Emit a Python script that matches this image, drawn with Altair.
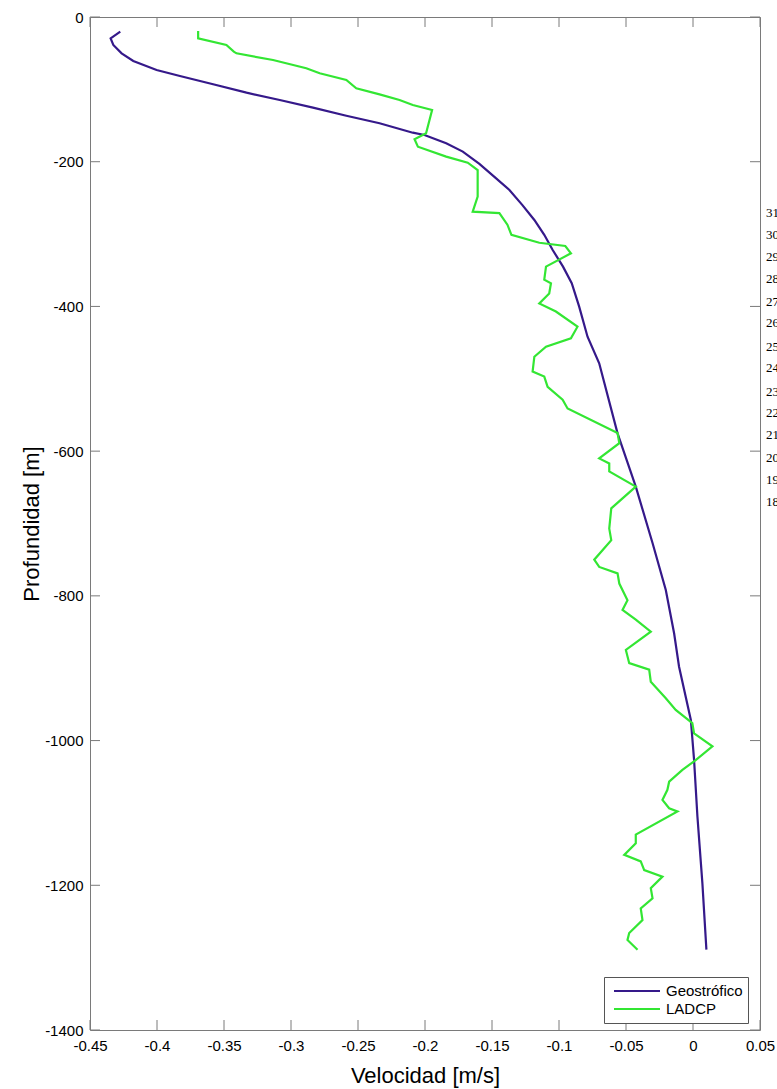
import altair as alt
import pandas as pd

# Geostrophic velocity profile (depth in m, velocity in m/s)
geo_depth = [-20.3, -29.5, -38.7, -50.2, -60.8, -73.2, -81.5, -93.0, -104.6, -114.7,
             -125.3, -136.4, -146.9, -159.9, -163.0, -174.6, -186.0, -203.0, -221.0,
             -239.0, -260.0, -280.5, -301.0, -322.0, -345.0, -368.0, -400.0, -441.8,
             -478.6, -575.4, -649.0, -727.0, -792.0, -851.7, -897.9, -971.5, -1026.8,
             -1105.0, -1197.0, -1289.0]
geo_vel = [-0.4274, -0.4346, -0.4326, -0.4264, -0.4177, -0.4003, -0.3829, -0.3581,
           -0.3332, -0.3084, -0.2836, -0.2587, -0.2339, -0.2091, -0.2004, -0.1842,
           -0.1718, -0.1594, -0.1482, -0.1370, -0.1273, -0.1184, -0.1110, -0.1047,
           -0.0970, -0.0905, -0.0850, -0.0787, -0.0700, -0.0563, -0.0427, -0.0302,
           -0.0203, -0.0141, -0.0104, -0.0016, 0.0008, 0.0033, 0.0070, 0.0100]

# LADCP velocity profile
ladcp_depth = [-19.3, -29.5, -38.7, -47.9, -50.2, -59.4, -70.9, -77.8, -87.0, -98.6,
               -106.9, -114.7, -121.6, -128.5, -160.7, -169.0, -179.2, -193.0, -201.3,
               -211.5, -248.3, -269.0, -271.0, -287.0, -301.0, -312.0, -316.5, -326.6,
               -345.0, -363.0, -368.0, -382.0, -396.0, -407.0, -428.0, -444.0, -455.6,
               -469.5, -490.0, -497.0, -511.0, -529.0, -541.0, -575.0, -589.0, -610.0,
               -617.0, -628.0, -649.0, -679.0, -707.0, -723.0, -750.0, -760.0, -769.0,
               -783.0, -806.0, -819.5, -833.0, -849.5, -874.8, -893.0, -902.0, -918.6,
               -941.6, -957.7, -976.0, -990.0, -1008.0, -1027.0, -1040.6, -1056.8,
               -1068.0, -1082.0, -1093.6, -1098.0, -1130.0, -1142.0, -1158.0, -1167.0,
               -1179.0, -1188.0, -1204.0, -1218.0, -1232.0, -1248.0, -1266.0, -1275.5,
               -1289.0]
ladcp_vel = [-0.3693, -0.3693, -0.3482, -0.3427, -0.3407, -0.3134, -0.2886, -0.2786,
             -0.2587, -0.2513, -0.2339, -0.2190, -0.2091, -0.1947, -0.1992, -0.2078,
             -0.2053, -0.1842, -0.1681, -0.1607, -0.1607, -0.1644, -0.1445, -0.1385,
             -0.1355, -0.1147, -0.0953, -0.0911, -0.1097, -0.1110, -0.1060, -0.1073,
             -0.1147, -0.1023, -0.0862, -0.0911, -0.1097, -0.1184, -0.1197, -0.1110,
             -0.1085, -0.0973, -0.0936, -0.0563, -0.0550, -0.0700, -0.0625, -0.0625,
             -0.0427, -0.0610, -0.0625, -0.0610, -0.0737, -0.0700, -0.0563, -0.0550,
             -0.0489, -0.0526, -0.0427, -0.0315, -0.0501, -0.0476, -0.0327, -0.0315,
             -0.0203, -0.0129, -0.0005, 0.0008, 0.0145, 0.0020, -0.0079, -0.0178,
             -0.0191, -0.0228, -0.0178, -0.0116, -0.0427, -0.0427, -0.0513, -0.0390,
             -0.0364, -0.0228, -0.0315, -0.0302, -0.0390, -0.0377, -0.0476, -0.0489,
             -0.0414]

series_names = ["Geostrófico", "LADCP"]
series_colors = ["#35198a", "#33e633"]

x_ticks = [-0.45, -0.4, -0.35, -0.3, -0.25, -0.2, -0.15, -0.1, -0.05, 0, 0.05]
y_ticks = [0, -200, -400, -600, -800, -1000, -1200, -1400]

# stray row numbers printed just right of the frame
side_labels = ["31", "30", "29", "28", "27", "26", "25", "24", "23", "22", "21", "20", "19", "18"]
side_depths = [-270.9, -301.3, -331.7, -362.1, -393.9, -422.9, -456.1, -485.1,
               -518.2, -547.3, -577.7, -609.5, -639.9, -670.3]

W, H = 670, 1013
AXIS_GRAY = "#7a7a7a"
FONT = "Liberation Sans"

rows = []
for name, dep, vel in [(series_names[0], geo_depth, geo_vel),
                       (series_names[1], ladcp_depth, ladcp_vel)]:
    for i, (d, v) in enumerate(zip(dep, vel)):
        rows.append({"serie": name, "depth": d, "vel": v, "i": i})
profiles = pd.DataFrame(rows)

xs = alt.Scale(domain=[-0.45, 0.05], nice=False, zero=False)
ys = alt.Scale(domain=[-1400, 0], nice=False, zero=False)

lines = alt.Chart(profiles).mark_line(strokeWidth=2.2, clip=True).encode(
    x=alt.X("vel:Q", scale=xs,
            axis=alt.Axis(values=x_ticks, title="Velocidad [m/s]",
                          labelExpr="'' + datum.value", labelPadding=8,
                          labelFlush=False, labelOverlap=False,
                          titleY=52, titleBaseline="alphabetic")),
    y=alt.Y("depth:Q", scale=ys,
            axis=alt.Axis(values=y_ticks, title="Profundidad [m]",
                          labelExpr="'' + datum.value", labelPadding=7,
                          labelFlush=False, labelOverlap=False,
                          titleX=-52, titleY=H / 2, titleBaseline="alphabetic",
                          titleAlign="center")),
    color=alt.Color("serie:N",
                    scale=alt.Scale(domain=series_names, range=series_colors),
                    legend=alt.Legend(orient="none", legendX=514, legendY=960,
                                      title=None, symbolType="stroke",
                                      symbolSize=2116, symbolStrokeWidth=2,
                                      clipHeight=18, padding=5, symbolOffset=4,
                                      labelOffset=5, labelFont=FONT,
                                      labelFontSize=15, labelColor="black",
                                      strokeColor="#555555", fillColor="white",
                                      rowPadding=0, cornerRadius=0)),
    order="i:Q",
)

xt = pd.DataFrame({"t": x_ticks})
yt = pd.DataFrame({"t": y_ticks})
TL = 10  # inward tick length

top_ticks = alt.Chart(xt).mark_rule(color=AXIS_GRAY, strokeWidth=1).encode(
    x=alt.X("t:Q", scale=xs), y=alt.value(0), y2=alt.value(TL))
bottom_ticks = alt.Chart(xt).mark_rule(color=AXIS_GRAY, strokeWidth=1).encode(
    x=alt.X("t:Q", scale=xs), y=alt.value(H), y2=alt.value(H - TL))
left_ticks = alt.Chart(yt).mark_rule(color=AXIS_GRAY, strokeWidth=1).encode(
    y=alt.Y("t:Q", scale=ys), x=alt.value(0), x2=alt.value(TL))
right_ticks = alt.Chart(yt).mark_rule(color=AXIS_GRAY, strokeWidth=1).encode(
    y=alt.Y("t:Q", scale=ys), x=alt.value(W), x2=alt.value(W - TL))

side = alt.Chart(pd.DataFrame({"lab": side_labels, "d": side_depths})).mark_text(
    align="left", baseline="middle", dx=6, font="Liberation Serif",
    fontSize=13, color="black", clip=False
).encode(
    x=alt.datum(0.05, scale=xs),
    y=alt.Y("d:Q", scale=ys),
    text="lab:N",
)

chart = alt.layer(
    lines, top_ticks, bottom_ticks, left_ticks, right_ticks, side
).properties(
    width=W, height=H,
    padding={"left": 90, "top": 17, "right": 17, "bottom": 59},
    autosize=alt.AutoSizeParams(type="none"),
    background="white",
).configure_view(
    stroke=AXIS_GRAY, strokeWidth=1
).configure_axis(
    domain=False, ticks=False, grid=False,
    labelFont=FONT, labelFontSize=15, labelColor="black",
    titleFont=FONT, titleFontSize=22, titleFontWeight="normal", titleColor="black",
)

chart.save("out.html", embed_options={"renderer": "svg", "actions": False})
